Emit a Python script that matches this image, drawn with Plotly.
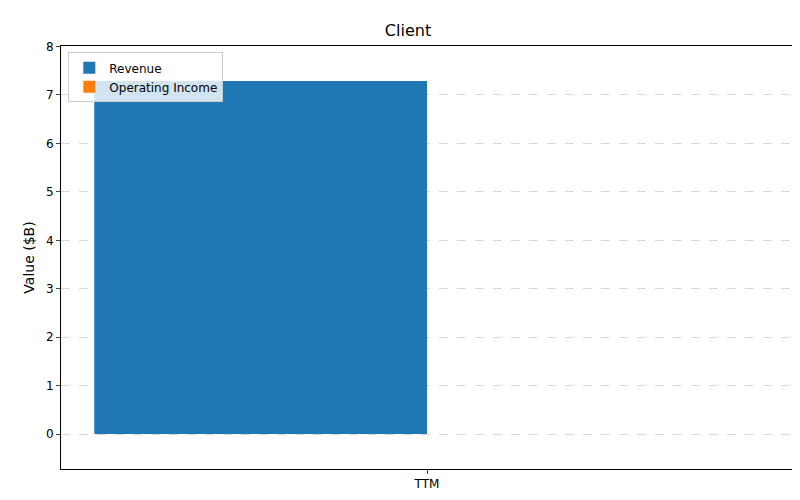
import plotly.graph_objects as go

# Data
periods = ["TTM"]
revenue = [7.29]
operating_income = [0.0]
bar_width = 0.35

fig = go.Figure()
fig.add_trace(go.Bar(x=[-bar_width / 2], y=revenue, width=bar_width, name="Revenue",
                     marker=dict(color="#1f77b4", line=dict(width=0))))
fig.add_trace(go.Bar(x=[bar_width / 2], y=operating_income, width=bar_width, name="Operating Income",
                     marker=dict(color="#ff7f0e", line=dict(width=0))))

fig.update_layout(
    width=800, height=500,
    margin=dict(l=53, r=15, t=38, b=39),
    plot_bgcolor="white", paper_bgcolor="white",
    font=dict(family="DejaVu Sans", size=12, color="black"),
    title=dict(text="Client", x=0.5, xanchor="center", y=0.955, yanchor="middle",
               font=dict(size=16)),
    barmode="overlay",
    showlegend=True,
    legend=dict(x=0.01, y=0.985, xanchor="left", yanchor="top",
                bordercolor="#cccccc", borderwidth=1, bgcolor="rgba(255,255,255,0.8)",
                font=dict(size=12), tracegroupgap=0),
    xaxis=dict(range=[-0.385, 0.385], tickvals=[0], ticktext=periods,
               showgrid=False, zeroline=False, showline=True, linecolor="black",
               mirror=True, ticks="outside", ticklen=4),
    yaxis=dict(range=[-0.72, 8.01], tickvals=list(range(0, 9)),
               showgrid=True, gridcolor="#d9d9d9", griddash="dash", zeroline=False,
               showline=True, linecolor="black", mirror=True, ticks="outside", ticklen=4,
               title=dict(text="Value ($B)", standoff=8)),
)

fig.write_html("out.html")
